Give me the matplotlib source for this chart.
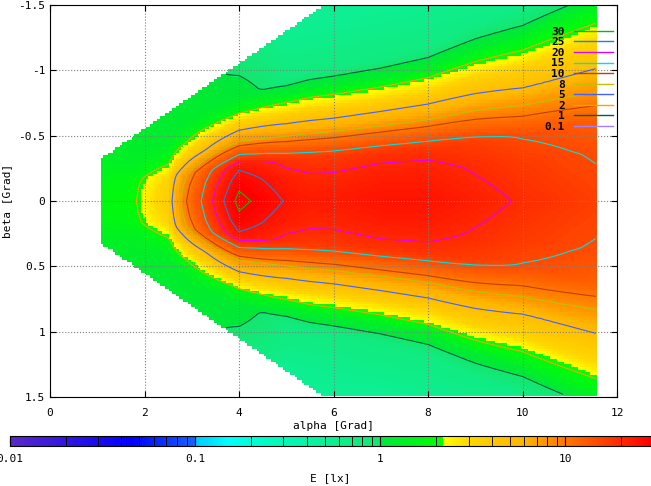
import numpy as np
import matplotlib
matplotlib.use("Agg")
import matplotlib.pyplot as plt
from matplotlib.colors import LinearSegmentedColormap, LogNorm
from matplotlib.lines import Line2D

plt.rcParams['font.family'] = ['DejaVu Sans Mono']
plt.rcParams['font.size'] = 8

# ---- data ----
alpha_knots = [1.1, 1.8, 2.5, 3.2, 4.0, 5.0, 5.5, 6.0, 7.0, 8.0, 9.0, 10.0, 11.0, 11.6]
peak_knots  = [0.5, 0.7, 2.5, 14.0, 31.0, 24.0, 22.5, 22.5, 24.0, 24.0, 21.5, 19.0, 17.0, 16.0]
width_knots = [0.30, 0.32, 0.36, 0.45, 0.52, 0.62, 0.66, 0.68, 0.72, 0.78, 0.90, 1.00, 1.15, 1.24]
bg_alpha = [1.1, 3.0, 5.0, 12.0]
bg_value = [1.3, 1.1, 0.5, 0.4]
prof_u = [0.0, 0.3, 0.5, 0.65, 0.85, 1.1, 1.3, 1.5, 2.0, 3.0]
prof_g = [1.0, 0.88, 0.75, 0.5, 0.25, 0.1, 0.035, 0.012, 0.004, 0.0]
levels = [0.1, 1, 2, 5, 8, 10, 15, 20, 25, 30]
level_colors = ['#a080ff', '#006040', '#ffa000', '#4060ff', '#c0c000',
                '#c04000', '#00e0e0', '#e000ff', '#2080e0', '#00c000']
cbar_ticks = [0.01, 0.1, 1, 10]
cbar_labels = ['0.01', '0.1', '1', '10']

# ---- field ----
a = np.arange(0, 12.0001, 0.05)
b = np.arange(-1.5, 1.5001, 0.02)
A, B = np.meshgrid(a, b)
peak = np.interp(A, alpha_knots, peak_knots)
wid = np.interp(A, alpha_knots, width_knots)
E = peak * np.interp(np.abs(B) / wid, prof_u, prof_g) + np.interp(A, bg_alpha, bg_value)
edge = np.minimum(0.33 + 0.249 * (A - 1.1), 1.5)
mask = (A < 1.1) | (A > 11.6) | (np.abs(B) > edge)
E = np.ma.masked_where(mask, E)

# ---- colormap ----
lo, hi = np.log10(0.01), np.log10(29)
def p(v):
    return (np.log10(v) - lo) / (hi - lo)
stops = [(0.01, (90, 40, 200)), (0.045, (0, 0, 255)), (0.0999, (20, 100, 255)),
         (0.1, (0, 200, 255)), (0.15, (0, 255, 255)), (0.2, (0, 255, 210)),
         (0.999, (20, 230, 110)), (1.0, (0, 230, 60)), (2.19, (0, 255, 0)),
         (2.2, (255, 255, 0)), (3.0, (255, 215, 0)), (6.0, (255, 180, 0)),
         (10.0, (255, 120, 0)), (29, (255, 0, 0))]
cmap = LinearSegmentedColormap.from_list(
    'g', [(p(v), tuple(c / 255 for c in col)) for v, col in stops])
norm = LogNorm(vmin=0.01, vmax=29)

fig = plt.figure(figsize=(6.51, 4.86), dpi=100)
ax = fig.add_axes([50/651, 89/486, 567/651, 392/486])
ax.pcolormesh(A, B, E, cmap=cmap, norm=norm, shading='nearest')
ax.contour(A, B, E, levels=levels, colors=level_colors, linewidths=0.8)
ax.set_xlim(0, 12)
ax.set_ylim(1.5, -1.5)
ax.set_xticks(range(0, 13, 2))
ax.set_yticks([-1.5, -1, -0.5, 0, 0.5, 1, 1.5])
ax.set_yticklabels(['-1.5', '-1', '-0.5', '0', '0.5', '1', '1.5'])
ax.grid(True, linestyle=':', color='gray', linewidth=0.8)
ax.tick_params(direction='in', length=4, top=True, right=True, labelsize=8)
ax.tick_params(axis='x', pad=8)
ax.set_xlabel('alpha [Grad]', labelpad=2)
ax.set_ylabel('beta [Grad]')

handles = [Line2D([], [], color=c, lw=1) for c in level_colors[::-1]]
labs = [('%g' % l) for l in levels[::-1]]
leg = ax.legend(handles, labs, loc='upper right', bbox_to_anchor=(1.01, 0.97),
                frameon=False, markerfirst=False, handlelength=3.5,
                labelspacing=0.05, prop={'weight': 'bold', 'size': 8})
for t in leg.get_texts():
    t.set_ha('right')

cax = fig.add_axes([10/651, 40/486, 641/651, 10/486])
cb = fig.colorbar(plt.cm.ScalarMappable(norm=norm, cmap=cmap), cax=cax,
                  orientation='horizontal')
cb.set_ticks(cbar_ticks)
cb.set_ticklabels(cbar_labels)
cax.tick_params(which='both', direction='in', top=True, length=4, labelsize=8, pad=6)
cb.set_label('E [lx]', labelpad=6)
fig.savefig('out.png', dpi=100)
